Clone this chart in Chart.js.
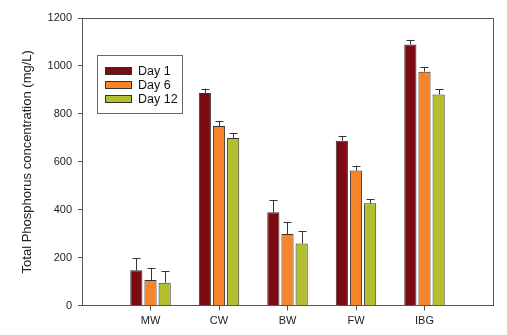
<!DOCTYPE html>
<html>
<head>
<meta charset="utf-8">
<script src="https://cdn.jsdelivr.net/npm/chart.js@4/dist/chart.umd.min.js"></script>
<style>
  html, body { margin: 0; padding: 0; background: #fff; }
  #wrap { width: 507px; height: 335px; }
</style>
</head>
<body>
<div id="wrap"><canvas id="chart1"></canvas></div>
<script>
// data
var sites = ["", "MW", "CW", "BW", "FW", "IBG", ""];
var day1 = [null, 147, 887, 389, 688, 1089, null];
var day6 = [null, 106, 749, 298, 563, 976, null];
var day12 = [null, 95, 699, 259, 427, 881, null];
var err1 = [0, 50, 18, 50, 20, 20, 0];
var err6 = [0, 50, 22, 50, 21, 19, 0];
var err12 = [0, 48, 20, 51, 17, 21, 0];
var yTicks = [0, 200, 400, 600, 800, 1000, 1200];

var barColors = ["#7b0a12", "#f5842a", "#b4bf2f"];

// upper error bars + frame
var errorBars = {
  id: "errorBars",
  afterDatasetsDraw: function (chart) {
    var ctx = chart.ctx;
    var yScale = chart.scales.y;
    ctx.save();
    ctx.strokeStyle = "#333";
    ctx.lineWidth = 1;
    chart.data.datasets.forEach(function (ds, i) {
      var meta = chart.getDatasetMeta(i);
      meta.data.forEach(function (bar, j) {
        if (ds.data[j] == null) return;
        var x = Math.round(bar.x) + 0.5;
        var yTop = yScale.getPixelForValue(ds.data[j]);
        var yErr = yScale.getPixelForValue(ds.data[j] + ds.errors[j]);
        ctx.beginPath();
        ctx.moveTo(x, yTop);
        ctx.lineTo(x, yErr);
        ctx.moveTo(x - 4, Math.round(yErr) + 0.5);
        ctx.lineTo(x + 4, Math.round(yErr) + 0.5);
        ctx.stroke();
      });
    });
    var a = chart.chartArea;
    ctx.strokeStyle = "#555";
    ctx.beginPath();
    ctx.moveTo(a.left, Math.round(a.top) + 0.5);
    ctx.lineTo(Math.round(a.right) + 0.5, Math.round(a.top) + 0.5);
    ctx.lineTo(Math.round(a.right) + 0.5, a.bottom);
    ctx.stroke();
    ctx.restore();
  }
};

// legend box inside the plot
var boxLegend = {
  id: "boxLegend",
  afterDraw: function (chart) {
    var ctx = chart.ctx;
    ctx.save();
    ctx.strokeStyle = "#666";
    ctx.lineWidth = 1;
    ctx.strokeRect(97.5, 55.5, 85, 58);
    ctx.font = "12.5px 'Liberation Sans', Arial, sans-serif";
    ctx.textBaseline = "middle";
    chart.data.datasets.forEach(function (ds, i) {
      var y = 71 + i * 14;
      ctx.fillStyle = ds.backgroundColor;
      ctx.fillRect(105, y - 4, 27, 8);
      ctx.strokeStyle = "#333";
      ctx.strokeRect(105.5, y - 3.5, 26, 7);
      ctx.fillStyle = "#111";
      ctx.fillText(ds.label, 138, y + 0.5);
    });
    ctx.restore();
  }
};

new Chart(document.getElementById("chart1"), {
  type: "bar",
  data: {
    labels: sites,
    datasets: [
      { label: "Day 1", data: day1, errors: err1, backgroundColor: barColors[0] },
      { label: "Day 6", data: day6, errors: err6, backgroundColor: barColors[1] },
      { label: "Day 12", data: day12, errors: err12, backgroundColor: barColors[2] }
    ]
  },
  options: {
    responsive: true,
    maintainAspectRatio: false,
    animation: false,
    layout: { padding: { left: 0, right: 14, top: 18, bottom: 0 } },
    datasets: {
      bar: {
        borderColor: "#333",
        borderWidth: 1,
        borderSkipped: "bottom",
        categoryPercentage: 0.62,
        barPercentage: 0.86
      }
    },
    plugins: {
      legend: { display: false },
      tooltip: { enabled: false }
    },
    scales: {
      x: {
        offset: false,
        afterFit: function (s) { s.height = 29.5; },
        grid: {
          offset: false,
          drawOnChartArea: false,
          tickLength: 5,
          tickColor: function (c) {
            return (c.index === 0 || c.index === sites.length - 1) ? "rgba(0,0,0,0)" : "#555";
          }
        },
        border: { color: "#555" },
        ticks: {
          maxRotation: 0,
          autoSkip: false,
          padding: 4,
          color: "#222",
          font: { family: "'Liberation Sans', Arial, sans-serif", size: 11 }
        }
      },
      y: {
        min: 0,
        max: 1200,
        afterFit: function (s) { s.width = 82; },
        afterBuildTicks: function (s) {
          s.ticks = yTicks.map(function (v) { return { value: v }; });
        },
        grid: { drawOnChartArea: false, tickLength: 4, tickColor: "#555" },
        border: { color: "#555" },
        ticks: {
          padding: 6,
          color: "#222",
          callback: function (v) { return String(v); },
          font: { family: "'Liberation Sans', Arial, sans-serif", size: 11 }
        },
        title: {
          display: true,
          text: "Total Phosphorus concentration (mg/L)",
          color: "#222",
          padding: { top: 20 },
          font: { family: "'Liberation Sans', Arial, sans-serif", size: 13 }
        }
      }
    }
  },
  plugins: [errorBars, boxLegend]
});
</script>
</body>
</html>
